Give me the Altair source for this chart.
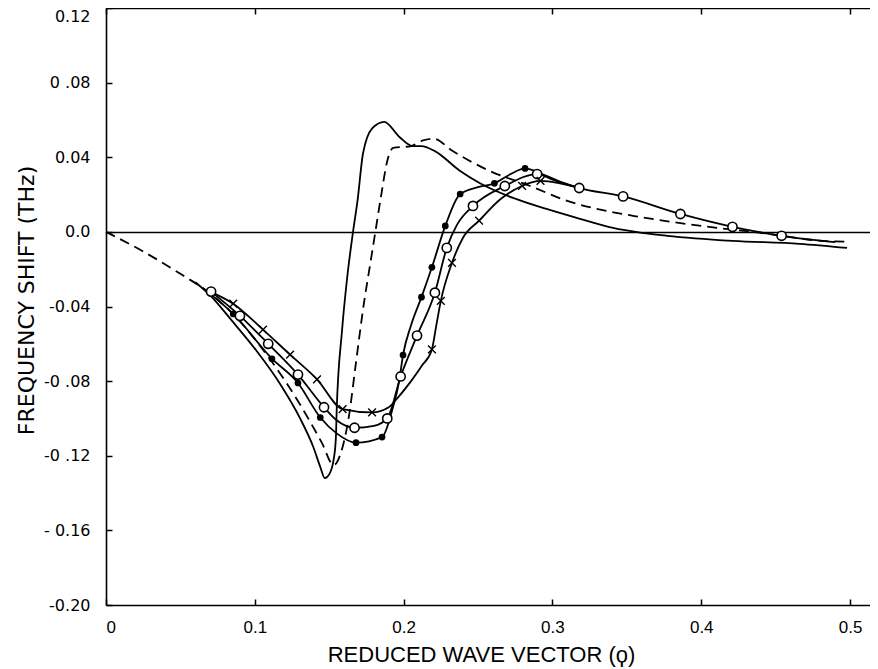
import altair as alt
import pandas as pd

# ---------------- data ----------------
# solid curve without markers (deepest minimum, highest maximum)
a_x = [0.060, 0.070, 0.085, 0.101, 0.117, 0.130, 0.1393, 0.144, 0.147, 0.150, 0.153, 0.1545, 0.155,
       0.1586, 0.162, 0.166, 0.169, 0.1727, 0.179, 0.187, 0.197, 0.206, 0.212, 0.221, 0.238, 0.251,
       0.2735, 0.296, 0.3185, 0.3407, 0.360, 0.377, 0.421, 0.466, 0.498]
a_y = [-0.027, -0.034, -0.048, -0.0636, -0.0815, -0.0993, -0.1153, -0.126, -0.132, -0.130, -0.122, -0.110,
       -0.096, -0.053, -0.025, 0.000, 0.0166, 0.042, 0.0556, 0.059, 0.051, 0.046, 0.046, 0.0433, 0.0326,
       0.0262, 0.0182, 0.0123, 0.007, 0.0021, -0.0005, -0.0021, -0.0048, -0.0064, -0.0086]

# dashed curve (starts at the origin)
b_x = [0.0, 0.025, 0.050, 0.070, 0.090, 0.110, 0.130, 0.145, 0.153, 0.158, 0.163, 0.168, 0.173, 0.178,
       0.181, 0.185, 0.189, 0.193, 0.205, 0.213, 0.220, 0.233, 0.258, 0.285, 0.310, 0.341, 0.355, 0.400,
       0.445, 0.481, 0.499]
b_y = [0.0, -0.0105, -0.0225, -0.033, -0.048, -0.068, -0.092, -0.113, -0.125, -0.118, -0.100, -0.070,
       -0.040, -0.015, 0.000, 0.020, 0.038, 0.045, 0.046, 0.049, 0.050, 0.0433, 0.0326, 0.0246, 0.0166,
       0.0105, 0.0085, 0.0032, -0.001, -0.0048, -0.0053]

# curve with filled dots
d_x = [0.065, 0.0855, 0.1115, 0.129, 0.144, 0.155, 0.168, 0.1855, 0.1925, 0.197, 0.1996, 0.205, 0.212,
       0.219, 0.228, 0.238, 0.250, 0.261, 0.272, 0.2816, 0.293, 0.305, 0.318]
d_y = [-0.030, -0.044, -0.068, -0.081, -0.0995, -0.108, -0.113, -0.110, -0.095, -0.080, -0.066, -0.050,
       -0.035, -0.019, 0.0032, 0.0203, 0.024, 0.026, 0.031, 0.034, 0.031, 0.027, 0.0235]
d_mx = [0.0855, 0.1115, 0.129, 0.144, 0.168, 0.1855, 0.1996, 0.212, 0.219, 0.228, 0.238, 0.261, 0.2816]
d_my = [-0.044, -0.068, -0.081, -0.0995, -0.113, -0.110, -0.066, -0.035, -0.019, 0.0032, 0.0203, 0.026, 0.034]

# curve with open circles
c_x = [0.0706, 0.090, 0.109, 0.129, 0.1465, 0.155, 0.167, 0.180, 0.189, 0.198, 0.209, 0.221, 0.229,
       0.236, 0.2466, 0.268, 0.2897, 0.300, 0.318, 0.3475, 0.386, 0.421, 0.454, 0.490]
c_y = [-0.032, -0.045, -0.060, -0.0765, -0.094, -0.101, -0.105, -0.104, -0.100, -0.0775, -0.0556, -0.0326,
       -0.0086, 0.004, 0.0139, 0.0246, 0.031, 0.028, 0.0235, 0.019, 0.0096, 0.0027, -0.0021, -0.0055]
c_mx = [0.0706, 0.090, 0.109, 0.129, 0.1465, 0.167, 0.189, 0.198, 0.209, 0.221, 0.229, 0.2466, 0.268,
        0.2897, 0.318, 0.3475, 0.386, 0.421, 0.454]
c_my = [-0.032, -0.045, -0.060, -0.0765, -0.094, -0.105, -0.100, -0.0775, -0.0556, -0.0326, -0.0086,
        0.0139, 0.0246, 0.031, 0.0235, 0.019, 0.0096, 0.0027, -0.0021]

# curve with crosses
x_x = [0.070, 0.0855, 0.1055, 0.1237, 0.1418, 0.159, 0.1788, 0.190, 0.197, 0.205, 0.212, 0.219, 0.222,
       0.225, 0.2325, 0.240, 0.2507, 0.265, 0.2796, 0.292, 0.305, 0.318]
x_y = [-0.032, -0.0385, -0.0524, -0.0658, -0.079, -0.095, -0.0968, -0.094, -0.088, -0.080, -0.072, -0.063,
       -0.050, -0.037, -0.0166, -0.003, 0.006, 0.0175, 0.0246, 0.0273, 0.026, 0.0235]
x_mx = [0.0855, 0.1055, 0.1237, 0.1418, 0.159, 0.1788, 0.219, 0.225, 0.2325, 0.2507, 0.2796, 0.292]
x_my = [-0.0385, -0.0524, -0.0658, -0.079, -0.095, -0.0968, -0.063, -0.037, -0.0166, 0.006, 0.0246, 0.0273]

x_ticks = [0, 0.1, 0.2, 0.3, 0.4, 0.5]
x_tick_labels = ["0", "0.1", "0.2", "0.3", "0.4", "0.5"]
y_ticks = [0.12, 0.08, 0.04, 0.0, -0.04, -0.08, -0.12, -0.16, -0.20]
y_tick_labels = ["0.12", "0 .08", "0.04", "0.0", "-0.04", "-0 .08", "-0 .12", "- 0.16", "-0.20"]

x_title = "REDUCED WAVE VECTOR (\u03d9)"
y_title = "FREQUENCY SHIFT (THz)"

# ---------------- chart ----------------
FONT = "DejaVu Sans"
XFONT = "Liberation Sans"
X_DOMAIN = [0, 0.5134]
Y_DOMAIN = [-0.20, 0.12]


def label_expr(vals, labs):
    s = ""
    for v, l in zip(vals, labs):
        s += f"abs(datum.value - ({v})) < 1e-6 ? '{l}' : "
    return s + "''"


xs = alt.Scale(domain=X_DOMAIN, nice=False, zero=False)
ys = alt.Scale(domain=Y_DOMAIN, nice=False, zero=False)

ax_b_lab = alt.Axis(orient="bottom", values=x_ticks, tickSize=6, offset=-6, domain=False, grid=False,
                    tickColor="black", tickWidth=1.5, labelExpr=label_expr(x_ticks, x_tick_labels),
                    labelFont=XFONT, labelFontSize=17, labelColor="black", labelPadding=14,
                    title=x_title, titleFont=XFONT, titleFontSize=22, titleFontWeight="normal",
                    titleColor="black", titlePadding=9, titleX=375)
ax_b_dom = alt.Axis(orient="bottom", domain=True, domainColor="black", domainWidth=1.6, ticks=False,
                    labels=False, grid=False, title=None)
ax_t_dom = alt.Axis(orient="top", domain=True, domainColor="black", domainWidth=1.6, ticks=False,
                    labels=False, grid=False, title=None)
ax_t_tick = alt.Axis(orient="top", values=x_ticks, tickSize=6, offset=-6, domain=False, grid=False,
                     tickColor="black", tickWidth=1.5, labels=False, title=None)
ay_l_lab = alt.Axis(orient="left", values=y_ticks, tickSize=6, offset=-6, domain=False, grid=False,
                    tickColor="black", tickWidth=1.5, labelExpr=label_expr(y_ticks, y_tick_labels),
                    labelOffset={"condition": {"test": "datum.value > 0.1", "value": 8}, "value": 0},
                    labelFont=FONT, labelFontSize=16, labelColor="black", labelPadding=16,
                    title=y_title, titleFont=FONT, titleFontSize=22, titleFontWeight="normal",
                    titleColor="black", titlePadding=5, titleY=292)
ay_l_dom = alt.Axis(orient="left", domain=True, domainColor="black", domainWidth=1.6, ticks=False,
                    labels=False, grid=False, title=None)
ay_zero = alt.Axis(orient="left", values=[0], domain=False, ticks=False, labels=False, grid=True,
                   gridColor="black", gridOpacity=1, gridWidth=1.3, title=None)


def df(xv, yv):
    return pd.DataFrame({"x": xv, "y": yv})


def line(xv, yv, xaxis, yaxis, dash=None):
    kw = dict(interpolate="monotone", color="black", strokeWidth=1.8)
    if dash is not None:
        kw["strokeDash"] = dash
    return alt.Chart(df(xv, yv)).mark_line(**kw).encode(
        x=alt.X("x:Q", scale=xs, axis=xaxis),
        y=alt.Y("y:Q", scale=ys, axis=yaxis),
    )


def points(xv, yv, **mk):
    return alt.Chart(df(xv, yv)).mark_point(**mk).encode(
        x=alt.X("x:Q", scale=xs, axis=None),
        y=alt.Y("y:Q", scale=ys, axis=None),
    )


layers = [
    line(a_x, a_y, ax_b_lab, ay_l_lab),
    line(b_x, b_y, ax_b_dom, ay_l_dom, dash=[10, 6]),
    line(d_x, d_y, ax_t_dom, ay_zero),
    line(c_x, c_y, ax_t_tick, None),
    line(x_x, x_y, None, None),
    points(d_mx, d_my, shape="circle", filled=True, color="black", size=45, opacity=1),
    points(c_mx, c_my, shape="circle", filled=True, fill="white", stroke="black", strokeWidth=1.6,
           size=85, opacity=1),
    points(x_mx, x_my, shape="M-1,-1L1,1M-1,1L1,-1", filled=False, color="black", strokeWidth=1.4,
           size=60, opacity=1),
]

chart = alt.layer(*layers).resolve_axis(x="independent", y="independent").properties(
    width=764, height=597,
    autosize=alt.AutoSizeParams(type="none"),
    padding={"left": 98, "top": 0, "right": 0, "bottom": 64},
    background="white",
).configure_view(stroke=None)

chart.save("out.html", embed_options={"renderer": "svg", "actions": False})
